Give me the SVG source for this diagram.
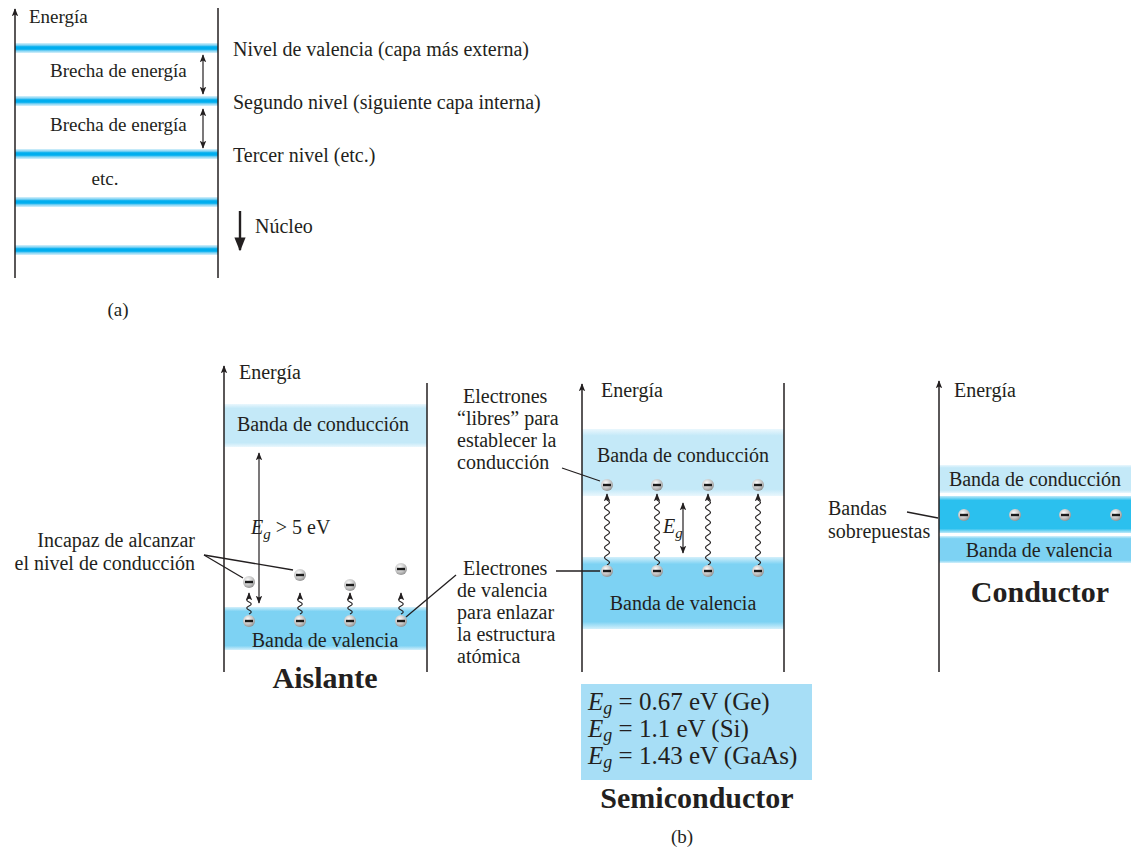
<svg xmlns="http://www.w3.org/2000/svg" width="1131" height="851" viewBox="0 0 1131 851" font-family="'Liberation Serif', 'DejaVu Serif', serif">
<defs>
  <style>
    text { font-family: 'Liberation Serif', 'DejaVu Serif', serif; fill: #231f20; }
    .lbl { font-size: 20px; }
    .lbla { font-size: 19px; }
    .ttl { font-size: 30px; font-weight: bold; }
    .box { font-size: 25px; }
    .ln { stroke: #231f20; stroke-width: 1.3; fill: none; }
    .axis { stroke: #231f20; stroke-width: 1.5; fill: none; }
    .wave { stroke: #231f20; stroke-width: 1.2; fill: none; marker-end: url(#ah); }
    .dbl { stroke: #231f20; stroke-width: 1.2; fill: none; marker-start: url(#ah); marker-end: url(#ah); }
  </style>
  <marker id="ah" viewBox="0 0 10 10" refX="9" refY="5" markerWidth="8" markerHeight="8" markerUnits="userSpaceOnUse" orient="auto-start-reverse">
    <path d="M0,1 L10,5 L0,9 L2,5 z" fill="#231f20"/>
  </marker>
  <marker id="ahbig" viewBox="0 0 10 10" refX="9" refY="5" markerWidth="14" markerHeight="14" markerUnits="userSpaceOnUse" orient="auto">
    <path d="M0,1 L10,5 L0,9 z" fill="#231f20"/>
  </marker>
  <linearGradient id="thin" x1="0" y1="0" x2="0" y2="1">
    <stop offset="0" stop-color="#d8f1fb"/>
    <stop offset="0.22" stop-color="#7fd2f3"/>
    <stop offset="0.38" stop-color="#00aeef"/>
    <stop offset="0.62" stop-color="#00aeef"/>
    <stop offset="0.78" stop-color="#7fd2f3"/>
    <stop offset="1" stop-color="#d8f1fb"/>
  </linearGradient>
  <linearGradient id="cond" x1="0" y1="0" x2="0" y2="1">
    <stop offset="0" stop-color="#eaf7fd"/>
    <stop offset="0.1" stop-color="#c4e9f8"/>
    <stop offset="0.9" stop-color="#c4e9f8"/>
    <stop offset="1" stop-color="#eaf7fd"/>
  </linearGradient>
  <linearGradient id="val" x1="0" y1="0" x2="0" y2="1">
    <stop offset="0" stop-color="#d4f0fb"/>
    <stop offset="0.1" stop-color="#7dd2f3"/>
    <stop offset="0.9" stop-color="#7dd2f3"/>
    <stop offset="1" stop-color="#d4f0fb"/>
  </linearGradient>
  <linearGradient id="over" x1="0" y1="0" x2="0" y2="1">
    <stop offset="0" stop-color="#bfe9f9"/>
    <stop offset="0.12" stop-color="#2bc0ee"/>
    <stop offset="0.88" stop-color="#2bc0ee"/>
    <stop offset="1" stop-color="#bfe9f9"/>
  </linearGradient>
  <radialGradient id="eg" cx="0.4" cy="0.35" r="0.7">
    <stop offset="0" stop-color="#ffffff"/>
    <stop offset="0.6" stop-color="#c4c4c4"/>
    <stop offset="1" stop-color="#8a8a8a"/>
  </radialGradient>
  <g id="el">
    <circle r="6" fill="url(#eg)"/>
    <rect x="-4" y="-1.2" width="8" height="2.4" fill="#1a1a1a"/>
  </g>
</defs>

<rect width="1131" height="851" fill="#ffffff"/>

<!-- ===== Part (a) ===== -->
<g id="part-a">
  <rect x="15" y="43" width="203" height="10" fill="url(#thin)"/>
  <rect x="15" y="96" width="203" height="10" fill="url(#thin)"/>
  <rect x="15" y="149" width="203" height="10" fill="url(#thin)"/>
  <rect x="15" y="197" width="203" height="10" fill="url(#thin)"/>
  <rect x="15" y="245" width="203" height="10" fill="url(#thin)"/>
  <line class="axis" x1="15" y1="278" x2="15" y2="9" marker-end="url(#ah)"/>
  <line class="axis" x1="218" y1="278" x2="218" y2="8"/>
  <text class="lbla" x="29" y="23">Energía</text>
  <text class="lbla" x="50" y="77">Brecha de energía</text>
  <text class="lbla" x="50" y="131">Brecha de energía</text>
  <text class="lbla" x="105" y="185" text-anchor="middle">etc.</text>
  <path class="dbl" d="M203,55 V94"/>
  <path class="dbl" d="M203,109 V148"/>
  <text class="lbl" x="233" y="56">Nivel de valencia (capa más externa)</text>
  <text class="lbl" x="233" y="109">Segundo nivel (siguiente capa interna)</text>
  <text class="lbl" x="233" y="162">Tercer nivel (etc.)</text>
  <line x1="240" y1="211" x2="240" y2="250" stroke="#231f20" stroke-width="2.4" marker-end="url(#ahbig)"/>
  <text class="lbl" x="255" y="233">Núcleo</text>
  <text class="lbla" x="118" y="316" text-anchor="middle">(a)</text>
</g>

<!-- ===== Aislante ===== -->
<g id="aislante">
  <rect x="224" y="404" width="203" height="43" fill="url(#cond)"/>
  <rect x="224" y="607" width="203" height="43" fill="url(#val)"/>
  <line class="axis" x1="224" y1="672" x2="224" y2="366" marker-end="url(#ah)"/>
  <line class="axis" x1="427" y1="672" x2="427" y2="383"/>
  <text class="lbl" x="239" y="379">Energía</text>
  <text class="lbl" x="323" y="431" text-anchor="middle">Banda de conducción</text>
  <text class="lbl" x="325" y="647" text-anchor="middle">Banda de valencia</text>
  <path class="dbl" d="M259,453 V603"/>
  <text class="lbl" x="251" y="534"><tspan font-style="italic">E</tspan><tspan font-style="italic" font-size="15" dy="5">g</tspan><tspan dy="-5"> &gt; 5 eV</tspan></text>
  <path class="wave" d="M249,614 q4.5,-2 0,-4 t0,-4 t0,-4 t0,-4 v-5"/>
  <path class="wave" d="M300,614 q4.5,-2 0,-4 t0,-4 t0,-4 t0,-4 v-5"/>
  <path class="wave" d="M350,614 q4.5,-2 0,-4 t0,-4 t0,-4 t0,-4 v-5"/>
  <path class="wave" d="M401,614 q4.5,-2 0,-4 t0,-4 t0,-4 t0,-4 v-5"/>
  <use href="#el" x="249" y="621"/>
  <use href="#el" x="300" y="621"/>
  <use href="#el" x="350" y="621"/>
  <use href="#el" x="401" y="621"/>
  <use href="#el" x="249" y="582"/>
  <use href="#el" x="300" y="575"/>
  <use href="#el" x="350" y="585"/>
  <use href="#el" x="401" y="569"/>
  <text class="ttl" x="325" y="688" text-anchor="middle">Aislante</text>
</g>

<g id="label-incapaz">
  <text class="lbl" x="195" y="547" text-anchor="end">Incapaz de alcanzar</text>
  <text class="lbl" x="195" y="570" text-anchor="end">el nivel de conducción</text>
</g>

<!-- ===== Semiconductor ===== -->
<g id="semiconductor">
  <rect x="582" y="429" width="202" height="67" fill="url(#cond)"/>
  <rect x="582" y="557" width="202" height="72" fill="url(#val)"/>
  <line class="axis" x1="582" y1="672" x2="582" y2="384" marker-end="url(#ah)"/>
  <line class="axis" x1="784" y1="672" x2="784" y2="383"/>
  <text class="lbl" x="601" y="397">Energía</text>
  <text class="lbl" x="683" y="462" text-anchor="middle">Banda de conducción</text>
  <text class="lbl" x="683" y="610" text-anchor="middle">Banda de valencia</text>
  <path class="wave" d="M607,565 q5,-2.5 0,-5 t0,-5 t0,-5 t0,-5 t0,-5 t0,-5 t0,-5 t0,-5 t0,-5 t0,-5 t0,-5 t0,-5 t0,-5 v-6"/>
  <path class="wave" d="M657,565 q5,-2.5 0,-5 t0,-5 t0,-5 t0,-5 t0,-5 t0,-5 t0,-5 t0,-5 t0,-5 t0,-5 t0,-5 t0,-5 t0,-5 v-6"/>
  <path class="wave" d="M708,565 q5,-2.5 0,-5 t0,-5 t0,-5 t0,-5 t0,-5 t0,-5 t0,-5 t0,-5 t0,-5 t0,-5 t0,-5 t0,-5 t0,-5 v-6"/>
  <path class="wave" d="M758,565 q5,-2.5 0,-5 t0,-5 t0,-5 t0,-5 t0,-5 t0,-5 t0,-5 t0,-5 t0,-5 t0,-5 t0,-5 t0,-5 t0,-5 v-6"/>
  <use href="#el" x="607" y="485"/>
  <use href="#el" x="657" y="485"/>
  <use href="#el" x="708" y="485"/>
  <use href="#el" x="758" y="485"/>
  <use href="#el" x="607" y="571"/>
  <use href="#el" x="657" y="571"/>
  <use href="#el" x="708" y="571"/>
  <use href="#el" x="758" y="571"/>
  <path class="dbl" d="M683,503 V553"/>
  <text class="lbl" x="663" y="533"><tspan font-style="italic">E</tspan><tspan font-style="italic" font-size="15" dy="5">g</tspan></text>
</g>

<g id="label-libres">
  <text class="lbl" x="463" y="403">Electrones</text>
  <text class="lbl" x="457" y="425">“libres” para</text>
  <text class="lbl" x="457" y="447">establecer la</text>
  <text class="lbl" x="457" y="469">conducción</text>
</g>

<g id="label-valencia">
  <text class="lbl" x="463" y="575">Electrones</text>
  <text class="lbl" x="457" y="597">de valencia</text>
  <text class="lbl" x="457" y="619">para enlazar</text>
  <text class="lbl" x="457" y="641">la estructura</text>
  <text class="lbl" x="457" y="663">atómica</text>
</g>

<g id="gap-box">
  <rect x="581" y="684" width="231" height="96" fill="#a7def6"/>
  <text class="box" x="588" y="710"><tspan font-style="italic">E</tspan><tspan font-style="italic" font-size="18" dy="4">g</tspan><tspan dy="-4"> = 0.67 eV (Ge)</tspan></text>
  <text class="box" x="588" y="737"><tspan font-style="italic">E</tspan><tspan font-style="italic" font-size="18" dy="4">g</tspan><tspan dy="-4"> = 1.1 eV (Si)</tspan></text>
  <text class="box" x="588" y="764"><tspan font-style="italic">E</tspan><tspan font-style="italic" font-size="18" dy="4">g</tspan><tspan dy="-4"> = 1.43 eV (GaAs)</tspan></text>
  <text class="ttl" x="697" y="808" text-anchor="middle">Semiconductor</text>
  <text class="lbla" x="682" y="843" text-anchor="middle">(b)</text>
</g>

<!-- ===== Conductor ===== -->
<g id="conductor">
  <rect x="939" y="465" width="192" height="28" fill="url(#cond)"/>
  <rect x="939" y="496" width="192" height="37" fill="url(#over)"/>
  <rect x="939" y="536" width="192" height="27" fill="url(#val)"/>
  <line class="axis" x1="939" y1="672" x2="939" y2="381" marker-end="url(#ah)"/>
  <text class="lbl" x="954" y="397">Energía</text>
  <text class="lbl" x="1035" y="486" text-anchor="middle">Banda de conducción</text>
  <text class="lbl" x="1039" y="557" text-anchor="middle">Banda de valencia</text>
  <use href="#el" x="964" y="515"/>
  <use href="#el" x="1015" y="515"/>
  <use href="#el" x="1065" y="515"/>
  <use href="#el" x="1116" y="515"/>
  <text class="ttl" x="1040" y="602" text-anchor="middle">Conductor</text>
</g>

<g id="label-bandas">
  <text class="lbl" x="828" y="515">Bandas</text>
  <text class="lbl" x="828" y="538">sobrepuestas</text>
</g>

<!-- ===== Leader lines ===== -->
<g id="connectors">
  <line class="ln" x1="204" y1="555" x2="243" y2="578"/>
  <line class="ln" x1="204" y1="555" x2="293" y2="570"/>
  <line class="ln" x1="406" y1="617" x2="456" y2="575"/>
  <line class="ln" x1="562" y1="468" x2="600" y2="481"/>
  <line class="ln" x1="556" y1="571" x2="600" y2="571"/>
  <line class="ln" x1="907" y1="512" x2="938" y2="518"/>
</g>
</svg>
